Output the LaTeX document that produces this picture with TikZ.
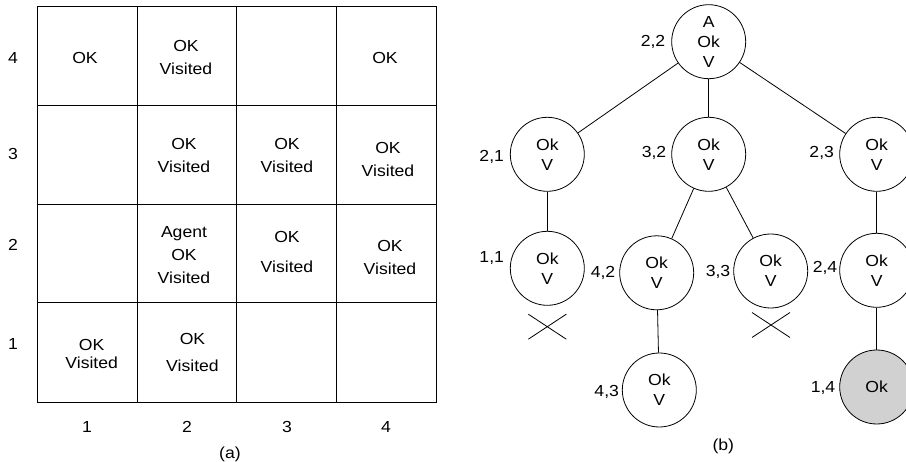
\documentclass[tikz,border=0pt]{standalone}
\usepackage{fontspec}
\setmainfont{Liberation Sans}[FakeStretch=1.1]
\usetikzlibrary{positioning}

\begin{document}
\begin{tikzpicture}[x = 1pt, y = -1pt, line width = .8pt,
  font = \fontsize{16}{23}\selectfont,
  cell/.style = {align = center},
  st/.style = {draw, circle, minimum size = 74pt, inner sep = 0pt, align = center,
    font = \fontsize{16}{20}\selectfont},
  seen/.style = {st, fill = black!18}]
\useasboundingbox (0,0) rectangle (906,462);

% the 4x4 world
\draw (37,6) rectangle (436,402);
\foreach \x in {137,236.7,336} \draw (\x,6) -- (\x,402);
\foreach \y in {105,204,302.3} \draw (37,\y) -- (436,\y);
\foreach \i/\y in {4/58,3/154,2/245,1/344} \node (r\i) at (13,\y) {\i};
\foreach \i/\x in {1/87,2/187,3/287,4/386} \node (c\i) at (\x,427) {\i};
\node (a) at (230,454) {(a)};

\node[cell] (s14) at (85,58) {OK};
\node[cell] (s24) at (186,57.5) {OK\\Visited};
\node[cell] (s44) at (385,58) {OK};
\node[cell] (s23) at (184,155.5) {OK\\Visited};
\node[cell] (s33) at (287,155.5) {OK\\Visited};
\node[cell] (s43) at (388,159) {OK\\Visited};
\node[cell] (s22) at (184,255.5) {Agent\\OK\\Visited};
\node[cell] (s32) at (287,252) {OK\\[7pt]Visited};
\node[cell] (s42) at (390,257) {OK\\Visited};
\node[cell] (s11) at (91.7,354) {OK\\[-5pt]Visited};
\node[cell] (s21) at (192.5,352.5) {OK\\[4pt]Visited};

% search tree
\node[st] (n22) at (708.7,41.7) {A\\Ok\\V};
\node[st] (n21) at (547.3,154.3) {Ok\\V};
\node[st] (n32) at (708.7,154.3) {Ok\\V};
\node[st] (n23) at (876.7,154.3) {Ok\\V};
\node[st] (n11) at (547.3,268.3) {Ok\\V};
\node[st] (n42) at (656.7,272.8) {Ok\\V};
\node[st] (n33) at (770.7,271) {Ok\\V};
\node[st] (n24) at (876.7,270.3) {Ok\\V};
\node[st] (n43) at (659.3,390) {Ok\\V};
\node[seen] (n14) at (876.7,387) {Ok};

\node (l22) at (653,42) {2,2};
\node (l21) at (491.7,156.7) {2,1};
\node (l32) at (654,153) {3,2};
\node (l23) at (821.7,153) {2,3};
\node (l11) at (491.7,258.3) {1,1};
\node (l42) at (603,273) {4,2};
\node (l33) at (718,271.7) {3,3};
\node (l24) at (825,268) {2,4};
\node (l43) at (606.7,391.7) {4,3};
\node (l14) at (823,388) {1,4};

\draw (n22) -- (n21);
\draw (n22) -- (n32);
\draw (n22) -- (n23);
\draw (n21) -- (n11);
\draw (n32) -- (n42);
\draw (n32) -- (n33);
\draw (n23) -- (n24);
\draw (n42) -- (n43);
\draw (n24) -- (n14);

\draw (528.3,314.2) -- (566.3,339.2) (528.3,339.2) -- (566.3,314.2);
\draw (752,312.5) -- (790,337.5) (752,337.5) -- (790,312.5);

\node (b) at (723.3,446.7) {(b)};
\end{tikzpicture}
\end{document}
